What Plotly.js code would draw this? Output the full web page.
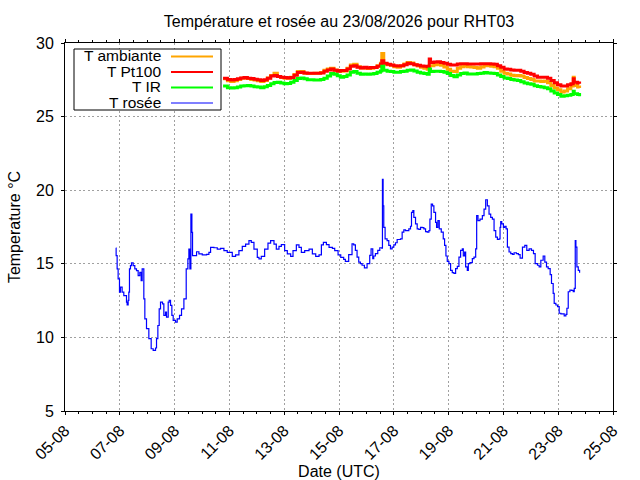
<!DOCTYPE html>
<html>
<head>
<meta charset="utf-8">
<script src="https://cdn.plot.ly/plotly-3.0.1.min.js"></script>
<style>body{margin:0;background:#fff}</style>
</head>
<body>
<div id="plot" style="width:640px;height:480px"></div>
<script>
// point de rosée (T rosée)
const dewTime = [
  '2026-08-06 20:30','2026-08-06 20:47','2026-08-06 21:40','2026-08-06 22:32','2026-08-06 23:43',
  '2026-08-07 00:35','2026-08-07 02:03','2026-08-07 03:30','2026-08-07 05:51','2026-08-07 06:26','2026-08-07 07:19','2026-08-07 07:54','2026-08-07 08:28','2026-08-07 09:21','2026-08-07 10:14','2026-08-07 11:41','2026-08-07 13:09','2026-08-07 14:37','2026-08-07 16:05','2026-08-07 17:32','2026-08-07 18:43','2026-08-07 19:35','2026-08-07 21:03','2026-08-07 21:56','2026-08-07 23:23',
  '2026-08-08 01:26','2026-08-08 03:29','2026-08-08 05:14','2026-08-08 07:17','2026-08-08 08:10','2026-08-08 09:20','2026-08-08 10:30','2026-08-08 11:40','2026-08-08 13:25','2026-08-08 14:35','2026-08-08 16:03','2026-08-08 16:55','2026-08-08 18:23','2026-08-08 19:16','2026-08-08 20:26','2026-08-08 21:36','2026-08-08 22:46',
  '2026-08-09 00:49','2026-08-09 02:17','2026-08-09 04:19','2026-08-09 06:04','2026-08-09 08:08','2026-08-09 10:10','2026-08-09 11:38','2026-08-09 12:30','2026-08-09 13:23','2026-08-09 14:16','2026-08-09 15:08','2026-08-09 15:43','2026-08-09 16:53','2026-08-09 19:14','2026-08-09 21:17',
  '2026-08-10 00:13','2026-08-10 04:01','2026-08-10 06:03','2026-08-10 07:31','2026-08-10 10:26','2026-08-10 13:22','2026-08-10 16:17','2026-08-10 19:12','2026-08-10 22:07',
  '2026-08-11 02:31','2026-08-11 05:26','2026-08-11 08:21','2026-08-11 11:17','2026-08-11 14:12','2026-08-11 17:07','2026-08-11 19:10','2026-08-11 21:30',
  '2026-08-12 00:26','2026-08-12 01:54','2026-08-12 03:56','2026-08-12 06:52','2026-08-12 09:47','2026-08-12 12:07','2026-08-12 15:03','2026-08-12 17:05','2026-08-12 19:26','2026-08-12 21:29',
  '2026-08-13 00:24','2026-08-13 02:44','2026-08-13 05:40','2026-08-13 07:43','2026-08-13 10:38','2026-08-13 12:58','2026-08-13 15:01','2026-08-13 17:57','2026-08-13 21:45',
  '2026-08-14 00:40','2026-08-14 03:36','2026-08-14 06:31','2026-08-14 08:34','2026-08-14 10:19','2026-08-14 12:57','2026-08-14 15:17','2026-08-14 18:13','2026-08-14 20:15','2026-08-14 23:11',
  '2026-08-15 01:31','2026-08-15 04:06','2026-08-15 05:34','2026-08-15 08:29','2026-08-15 11:25','2026-08-15 12:53','2026-08-15 14:21','2026-08-15 15:49','2026-08-15 17:17','2026-08-15 18:44','2026-08-15 20:12','2026-08-15 22:15',
  '2026-08-16 00:35','2026-08-16 02:55','2026-08-16 04:06','2026-08-16 05:34','2026-08-16 06:26','2026-08-16 07:54','2026-08-16 09:57','2026-08-16 11:43','2026-08-16 13:28','2026-08-16 14:03','2026-08-16 14:38','2026-08-16 15:13','2026-08-16 16:23','2026-08-16 18:08','2026-08-16 19:36','2026-08-16 21:04','2026-08-16 22:32',
  '2026-08-17 00:00','2026-08-17 01:28','2026-08-17 02:56','2026-08-17 05:51','2026-08-17 07:19','2026-08-17 08:47','2026-08-17 10:15','2026-08-17 11:43','2026-08-17 13:10','2026-08-17 14:38','2026-08-17 15:30','2026-08-17 16:41','2026-08-17 17:33','2026-08-17 19:02','2026-08-17 20:29','2026-08-17 21:58','2026-08-17 23:25',
  '2026-08-18 00:53','2026-08-18 02:21','2026-08-18 03:49','2026-08-18 05:16','2026-08-18 06:44','2026-08-18 07:37','2026-08-18 08:47','2026-08-18 09:57','2026-08-18 11:07','2026-08-18 12:35','2026-08-18 13:28','2026-08-18 14:38','2026-08-18 15:49','2026-08-18 17:34','2026-08-18 19:19','2026-08-18 20:29','2026-08-18 21:39','2026-08-18 22:49',
  '2026-08-19 00:17','2026-08-19 01:45','2026-08-19 03:13','2026-08-19 04:41','2026-08-19 06:09','2026-08-19 07:37','2026-08-19 09:04','2026-08-19 10:32','2026-08-19 12:00','2026-08-19 12:53','2026-08-19 14:03','2026-08-19 14:56','2026-08-19 16:23','2026-08-19 17:16','2026-08-19 18:44','2026-08-19 20:47','2026-08-19 22:15','2026-08-19 23:43',
  '2026-08-20 00:35','2026-08-20 01:45','2026-08-20 03:30','2026-08-20 05:34','2026-08-20 07:02','2026-08-20 08:29','2026-08-20 09:57','2026-08-20 11:25','2026-08-20 12:53','2026-08-20 14:21','2026-08-20 15:49','2026-08-20 17:17','2026-08-20 18:44','2026-08-20 20:12','2026-08-20 21:04','2026-08-20 21:39','2026-08-20 22:32',
  '2026-08-21 00:00','2026-08-21 01:10','2026-08-21 02:21','2026-08-21 03:30','2026-08-21 04:58','2026-08-21 06:26','2026-08-21 07:54','2026-08-21 09:21','2026-08-21 11:25','2026-08-21 13:10','2026-08-21 14:38','2026-08-21 16:41','2026-08-21 18:44','2026-08-21 20:29','2026-08-21 22:32',
  '2026-08-22 00:35','2026-08-22 02:21','2026-08-22 03:49','2026-08-22 05:51','2026-08-22 07:19','2026-08-22 08:47','2026-08-22 10:50','2026-08-22 12:17','2026-08-22 13:45','2026-08-22 15:13','2026-08-22 16:58','2026-08-22 18:08','2026-08-22 19:36','2026-08-22 20:29','2026-08-22 21:58','2026-08-22 23:25',
  '2026-08-23 00:53','2026-08-23 02:21','2026-08-23 03:49','2026-08-23 05:16','2026-08-23 06:44','2026-08-23 07:37','2026-08-23 08:47','2026-08-23 10:15','2026-08-23 11:43','2026-08-23 13:10','2026-08-23 14:03','2026-08-23 14:56','2026-08-23 15:30','2026-08-23 16:23','2026-08-23 17:34','2026-08-23 18:44'
];
const dewValue = [
  16.07,15.55,14.65,13.97,13.07,
  13.41,13.07,12.84,12.39,12.21,12.51,13.07,14.65,14.88,15.06,14.88,14.65,14.54,14.20,14.42,13.86,14.65,12.62,11.26,10.59,
  9.91,9.23,9.12,9.28,9.91,10.81,11.94,12.39,12.28,11.49,11.72,11.38,12.39,12.51,12.17,11.49,11.15,
  11.04,11.26,11.49,11.94,12.62,14.65,15.33,16.00,14.65,18.37,17.13,15.55,15.55,15.82,15.67,
  15.60,15.64,15.78,16.12,16.09,16.00,16.05,15.89,15.78,
  15.51,15.60,15.89,16.19,16.34,16.57,16.46,16.00,
  15.44,15.33,15.51,16.00,16.41,16.57,16.34,16.00,16.19,16.30,
  15.89,15.67,15.51,15.89,16.28,16.12,15.78,15.89,16.00,
  15.67,15.51,15.60,16.28,16.46,16.30,16.12,16.05,15.89,15.60,
  15.44,15.30,15.17,15.62,16.36,16.29,15.91,15.46,15.12,15.01,14.90,14.72,
  15.01,15.57,16.02,15.35,15.53,15.69,15.91,16.09,16.07,20.74,18.94,17.48,16.70,16.58,16.25,16.02,16.13,
  16.29,16.43,16.65,16.70,17.15,17.30,17.26,17.26,17.37,17.55,18.49,18.61,18.16,17.71,17.37,17.33,17.48,
  17.46,17.37,17.19,17.15,17.26,18.04,19.06,18.94,18.49,17.82,17.48,17.93,17.37,17.15,16.70,16.25,15.53,15.17,
  15.01,14.56,14.40,14.34,14.67,14.83,15.46,15.91,16.02,15.53,15.80,14.79,14.56,15.01,15.08,15.35,15.46,16.02,
  18.27,17.93,18.04,18.27,18.72,19.35,18.94,18.38,18.16,18.04,17.26,16.81,16.65,16.70,17.48,17.87,17.71,
  17.48,17.55,17.37,16.13,15.80,15.69,15.64,15.75,15.69,15.62,15.39,16.13,16.25,15.91,16.02,
  15.91,15.69,15.01,14.90,14.79,15.24,15.53,15.12,14.79,14.67,14.27,13.66,12.99,12.31,12.20,12.09,
  11.64,11.60,11.60,11.46,11.57,11.98,13.10,13.21,13.19,13.10,13.33,16.58,16.13,14.79,14.56,14.40
];

// T ambiante, T Pt100, T IR (meme horodatage)
const tempTime = [
  '2026-08-10 18:27','2026-08-10 22:15',
  '2026-08-11 01:10','2026-08-11 04:05','2026-08-11 07:00','2026-08-11 09:55','2026-08-11 12:50','2026-08-11 15:45','2026-08-11 18:40','2026-08-11 21:35',
  '2026-08-12 00:30','2026-08-12 03:25','2026-08-12 06:20','2026-08-12 09:14','2026-08-12 12:10','2026-08-12 15:05','2026-08-12 18:00','2026-08-12 20:54','2026-08-12 23:50',
  '2026-08-13 02:44','2026-08-13 05:39','2026-08-13 08:34','2026-08-13 11:29','2026-08-13 14:24','2026-08-13 17:19','2026-08-13 20:14','2026-08-13 23:09',
  '2026-08-14 02:04','2026-08-14 04:59','2026-08-14 07:54','2026-08-14 10:49','2026-08-14 13:44','2026-08-14 16:39','2026-08-14 19:34','2026-08-14 22:29',
  '2026-08-15 01:10','2026-08-15 04:06','2026-08-15 07:02','2026-08-15 09:57','2026-08-15 12:53','2026-08-15 15:49','2026-08-15 18:44','2026-08-15 21:39',
  '2026-08-16 00:35','2026-08-16 03:30','2026-08-16 06:26','2026-08-16 09:21','2026-08-16 12:17','2026-08-16 13:28','2026-08-16 15:13','2026-08-16 18:08','2026-08-16 21:04',
  '2026-08-17 00:00','2026-08-17 02:56','2026-08-17 05:51','2026-08-17 08:47','2026-08-17 11:43','2026-08-17 14:38','2026-08-17 17:33','2026-08-17 20:29','2026-08-17 23:25',
  '2026-08-18 02:21','2026-08-18 05:16','2026-08-18 07:02','2026-08-18 08:12','2026-08-18 11:07','2026-08-18 14:03','2026-08-18 16:58','2026-08-18 19:54','2026-08-18 22:49',
  '2026-08-19 01:45','2026-08-19 04:41','2026-08-19 07:37','2026-08-19 10:32','2026-08-19 13:28','2026-08-19 16:23','2026-08-19 19:19','2026-08-19 22:15',
  '2026-08-20 01:10','2026-08-20 04:06','2026-08-20 07:02','2026-08-20 09:57','2026-08-20 12:53','2026-08-20 15:49','2026-08-20 18:44','2026-08-20 21:39',
  '2026-08-21 00:35','2026-08-21 03:30','2026-08-21 06:26','2026-08-21 09:21','2026-08-21 12:17','2026-08-21 15:13','2026-08-21 18:08','2026-08-21 21:04',
  '2026-08-22 00:00','2026-08-22 02:56','2026-08-22 05:51','2026-08-22 08:47','2026-08-22 11:43','2026-08-22 14:38','2026-08-22 17:33','2026-08-22 20:29','2026-08-22 23:25',
  '2026-08-23 02:21','2026-08-23 05:16','2026-08-23 08:12','2026-08-23 11:07','2026-08-23 13:10','2026-08-23 14:03','2026-08-23 16:58','2026-08-23 18:44'
];
const tAmbiante = [
  27.57,27.43,
  27.39,27.43,27.52,27.61,27.63,27.59,27.52,27.48,
  27.43,27.39,27.46,27.63,27.79,27.95,27.72,27.66,27.61,
  27.61,27.68,27.86,28.06,28.06,27.95,27.92,27.92,
  27.95,27.95,27.99,28.15,28.24,28.28,28.17,28.08,
  28.08,28.10,28.28,28.50,28.55,28.39,28.30,28.30,
  28.26,28.28,28.33,28.46,28.62,29.29,28.57,28.53,28.48,
  28.39,28.35,28.44,28.57,28.68,28.64,28.53,28.44,28.35,
  28.28,28.21,28.46,28.46,28.53,28.55,28.48,28.37,28.21,
  28.08,28.06,28.28,28.39,28.46,28.39,28.37,28.33,
  28.28,28.37,28.46,28.46,28.42,28.39,28.28,28.08,
  27.95,27.90,27.81,27.77,27.79,27.75,27.66,27.59,
  27.52,27.41,27.41,27.39,27.41,27.30,27.12,26.94,26.83,
  26.67,26.74,26.90,27.08,27.68,27.12,27.01,26.94
];
const tPt100 = [
  27.61,27.52,
  27.48,27.52,27.57,27.63,27.66,27.61,27.59,27.54,
  27.50,27.46,27.50,27.61,27.75,27.79,27.72,27.68,27.66,
  27.63,27.66,27.81,27.99,28.01,27.97,27.95,27.95,
  27.95,27.95,27.97,28.08,28.17,28.24,28.15,28.08,
  28.13,28.13,28.24,28.42,28.46,28.35,28.30,28.35,
  28.30,28.33,28.33,28.42,28.55,28.79,28.62,28.55,28.50,
  28.46,28.44,28.46,28.53,28.62,28.59,28.53,28.48,28.44,
  28.42,28.39,28.91,28.68,28.71,28.73,28.68,28.62,28.55,
  28.50,28.50,28.57,28.59,28.59,28.57,28.57,28.57,
  28.57,28.59,28.59,28.59,28.57,28.55,28.46,28.35,
  28.24,28.21,28.17,28.15,28.15,28.08,27.99,27.95,
  27.88,27.75,27.68,27.68,27.68,27.61,27.46,27.30,27.17,
  27.08,27.08,27.17,27.23,27.57,27.34,27.28,27.23
];
const tIR = [
  27.08,26.96,
  26.94,26.96,27.01,27.08,27.10,27.12,27.08,27.03,
  27.01,26.96,27.03,27.12,27.23,27.32,27.34,27.28,27.23,
  27.25,27.34,27.46,27.59,27.63,27.57,27.50,27.50,
  27.48,27.48,27.52,27.61,27.75,27.92,27.88,27.77,
  27.68,27.72,27.83,28.01,28.06,27.95,27.88,27.90,
  27.88,27.90,27.92,28.01,28.10,28.42,28.15,28.08,28.06,
  28.01,28.01,28.06,28.08,28.15,28.17,28.10,28.01,27.97,
  27.92,27.88,28.24,28.06,28.08,28.08,28.06,28.01,27.92,
  27.79,27.70,27.83,27.92,27.97,27.90,27.90,27.90,
  27.92,27.95,27.99,27.97,27.95,27.92,27.83,27.72,
  27.63,27.59,27.52,27.48,27.46,27.37,27.28,27.23,
  27.19,27.10,27.05,27.01,26.96,26.90,26.74,26.61,26.50,
  26.38,26.41,26.45,26.50,26.72,26.56,26.50,26.38
];

const seriesNames = ['T ambiante', 'T Pt100', 'T IR', 'T rosée'];
const seriesColors = ['#ffa500', '#ff0000', '#00ff00', '#0000ff'];
const xTicks = ['2026-08-05','2026-08-07','2026-08-09','2026-08-11','2026-08-13','2026-08-15','2026-08-17','2026-08-19','2026-08-21','2026-08-23','2026-08-25'];

const FONT = 'Liberation Sans, Arial, sans-serif';
const M = {l: 65, r: 27, t: 43, b: 69};
const W = 640, H = 480;
const pw = W - M.l - M.r, ph = H - M.t - M.b;
// pixels -> paper (for the key box)
function px(x) { return (x - M.l) / pw; }
function py(y) { return (H - M.b - y) / ph; }

let traces = [];
let ys = [tAmbiante, tPt100, tIR];
for (let i = 0; i < 3; i++) {
    traces.push({
        x: tempTime, y: ys[i], type: 'scatter', mode: 'lines',
        name: seriesNames[i],
        line: {color: seriesColors[i], width: 3, shape: 'hv'}
    });
}
traces.push({
    x: dewTime, y: dewValue, type: 'scatter', mode: 'lines',
    name: seriesNames[3],
    line: {color: seriesColors[3], width: 1.2, shape: 'hv'}
});

// gnuplot style key, drawn by hand (text on the left, sample on the right)
let shapes = [{
    type: 'rect', xref: 'paper', yref: 'paper', layer: 'above',
    x0: px(74), x1: px(221), y0: py(49), y1: py(110),
    fillcolor: '#ffffff', line: {color: '#000000', width: 1}
}];
let annotations = [];
const rowY = [56.5, 72, 87.5, 103];
for (let i = 0; i < 4; i++) {
    shapes.push({
        type: 'line', xref: 'paper', yref: 'paper', layer: 'above',
        x0: px(171), x1: px(213), y0: py(rowY[i]), y1: py(rowY[i]),
        line: {color: seriesColors[i], width: i < 3 ? 2 : 1.2}
    });
    annotations.push({
        xref: 'paper', yref: 'paper', x: px(162), y: py(rowY[i] - 1),
        xanchor: 'right', yanchor: 'middle', showarrow: false, borderpad: 0,
        text: seriesNames[i], font: {family: FONT, size: 15.5, color: '#000'}
    });
}

let layout = {
    width: W, height: H,
    margin: M,
    paper_bgcolor: '#fff', plot_bgcolor: '#fff',
    showlegend: false,
    font: {family: FONT, size: 16, color: '#000'},
    title: {
        text: 'Température et rosée au 23/08/2026 pour RHT03',
        font: {family: FONT, size: 16, color: '#000'},
        x: (M.l + pw / 2) / W, xanchor: 'center',
        y: 1 - 21 / H, yanchor: 'middle', yref: 'container'
    },
    xaxis: {
        type: 'date',
        range: ['2026-08-05', '2026-08-25'],
        tickvals: xTicks,
        tickformat: '%d-%m',
        tickangle: -45,
        ticks: 'outside', ticklen: 3, tickcolor: '#000',
        minor: {ticks: 'outside', ticklen: 2, dtick: 43200000, tickcolor: '#000', showgrid: false},
        showline: true, linecolor: '#000', linewidth: 1, mirror: 'allticks',
        showgrid: true, gridcolor: '#a0a0a0', griddash: '2px,2.5px', gridwidth: 1,
        zeroline: false,
        tickfont: {family: FONT, size: 16, color: '#000'},
        title: {text: 'Date (UTC)', standoff: 4, font: {family: FONT, size: 16, color: '#000'}}
    },
    yaxis: {
        range: [5, 30], dtick: 5, tick0: 5,
        ticks: 'outside', ticklen: 3, tickcolor: '#000',
        showline: true, linecolor: '#000', linewidth: 1, mirror: 'allticks',
        showgrid: true, gridcolor: '#a0a0a0', griddash: '2px,2.5px', gridwidth: 1,
        zeroline: false,
        ticklabelstandoff: 4,
        tickfont: {family: FONT, size: 16, color: '#000'},
        title: {text: 'Temperature °C', standoff: 11, font: {family: FONT, size: 16, color: '#000'}}
    },
    shapes: shapes,
    annotations: annotations
};

Plotly.newPlot('plot', traces, layout, {staticPlot: true, displayModeBar: false});
</script>
</body>
</html>
